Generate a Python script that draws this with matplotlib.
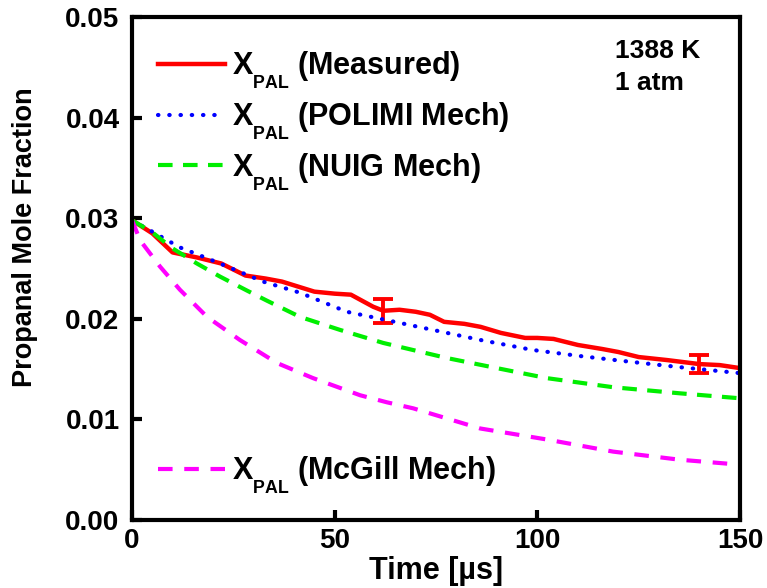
import matplotlib
matplotlib.use('Agg')
import matplotlib.pyplot as plt
import matplotlib._mathtext as mtext

plt.rcParams['font.family'] = ['Liberation Sans', 'DejaVu Sans']
plt.rcParams['font.weight'] = 'bold'
plt.rcParams['mathtext.fontset'] = 'custom'
plt.rcParams['mathtext.rm'] = 'Liberation Sans:bold'
plt.rcParams['mathtext.bf'] = 'Liberation Sans:bold'
plt.rcParams['mathtext.it'] = 'Liberation Sans:bold'

# smaller, lower subscripts like the original figure
mtext.SHRINK_FACTOR = 0.58
mtext.FontConstantsBase.sub1 = 0.85
mtext.FontConstantsBase.subdrop = 0.85

# measured propanal profile
t_meas = [0, 5, 10, 16, 22, 28, 33, 37, 41, 45, 50, 54, 59.5, 62, 66, 70, 73.5, 77,
          82, 86, 91, 97, 100, 104, 110, 116, 120, 125, 132, 140, 145, 150]
x_meas = [0.0298, 0.0285, 0.0266, 0.0261, 0.0255, 0.0243, 0.0240, 0.0237, 0.0232,
          0.0227, 0.0225, 0.0224, 0.0212, 0.0208, 0.0209, 0.0207, 0.0204, 0.0197,
          0.0195, 0.0192, 0.0186, 0.0181, 0.0181, 0.0180, 0.0174, 0.0170, 0.0167,
          0.0162, 0.0159, 0.0155, 0.0154, 0.0151]

# error bars
t_err = [62, 140]
x_err = [0.0208, 0.0155]
e_err = [0.0012, 0.0009]

# model predictions
t_polimi = [0, 4.4, 11.8, 16.8, 21.7, 32.3, 41.4, 53, 66, 77.7, 85.9, 98.9, 110.5,
            123.6, 135, 150]
x_polimi = [0.0298, 0.0288, 0.0271, 0.0263, 0.0255, 0.0237, 0.0226, 0.0207, 0.0196,
            0.0186, 0.0179, 0.0169, 0.0163, 0.0157, 0.0152, 0.0146]

t_nuig = [0, 5, 10, 16, 21.7, 28.4, 33.3, 41.4, 51.3, 62, 77.7, 90, 102.4, 118.7,
          135, 150]
x_nuig = [0.0298, 0.0286, 0.0270, 0.0255, 0.0242, 0.0228, 0.0218, 0.0202, 0.0189,
          0.0176, 0.0161, 0.0151, 0.0141, 0.0132, 0.0126, 0.0121]

t_mcgill = [0, 2, 6.9, 11.8, 18.5, 26.6, 35.8, 44.7, 56.3, 62.9, 69.4, 85.9, 102.4,
            118.7, 135, 150]
x_mcgill = [0.0298, 0.0278, 0.0252, 0.0229, 0.0202, 0.0179, 0.0156, 0.0141, 0.0124,
            0.0117, 0.0111, 0.0091, 0.0080, 0.0068, 0.0060, 0.0055]

labels = [r'$\mathbf{X_{PAL}}$ (Measured)', r'$\mathbf{X_{PAL}}$ (POLIMI Mech)',
          r'$\mathbf{X_{PAL}}$ (NUIG Mech)', r'$\mathbf{X_{PAL}}$ (McGill Mech)']

fig = plt.figure(figsize=(7.67, 5.88), dpi=100)
ax = fig.add_axes([0.1721, 0.1156, 0.7927, 0.8555])

l1, = ax.plot(t_meas, x_meas, color='red', lw=3.2, solid_joinstyle='round')
ax.errorbar(t_err, x_err, yerr=e_err, fmt='none', ecolor='red', elinewidth=2.8,
            capsize=7.5, capthick=2.8)
l2, = ax.plot(t_polimi, x_polimi, color='blue', lw=3, linestyle=(0, (0.1, 2.6)),
              dash_capstyle='round')
l3, = ax.plot(t_nuig, x_nuig, color='#00ee00', lw=3, linestyle=(0, (3.5, 2.5)))
l4, = ax.plot(t_mcgill, x_mcgill, color='magenta', lw=3, linestyle=(0, (3.5, 2.8)))

ax.set_xlim(0, 150)
ax.set_ylim(0, 0.05)
ax.set_xticks([0, 50, 100, 150])
ax.set_yticks([0.00, 0.01, 0.02, 0.03, 0.04, 0.05])
ax.set_yticklabels(['0.00', '0.01', '0.02', '0.03', '0.04', '0.05'])
ax.tick_params(direction='in', length=7, width=3, labelsize=20)
ax.tick_params(axis='y', pad=9)
ax.tick_params(axis='x', pad=6)
for s in ax.spines.values():
    s.set_linewidth(3)

ax.set_xlabel('Time [µs]', fontsize=22, fontweight='bold', labelpad=1)
ax.set_ylabel('Propanal Mole Fraction', fontsize=19.5, fontweight='bold')
ax.yaxis.set_label_coords(-0.155, 0.563)

leg1 = ax.legend([l1, l2, l3], labels[:3], loc='upper left', frameon=False,
                 fontsize=22, handlelength=2.2, handletextpad=0.25, labelspacing=0.3,
                 borderaxespad=0.2, bbox_to_anchor=(0.012, 0.971))
ax.add_artist(leg1)
ax.legend([l4], labels[3:], loc='lower left', frameon=False, fontsize=22,
          handlelength=2.2, handletextpad=0.25, borderaxespad=0.2,
          bbox_to_anchor=(0.012, 0.012))

ax.text(0.795, 0.9185, '1388 K', transform=ax.transAxes, fontsize=19,
        fontweight='bold', va='baseline')
ax.text(0.795, 0.855, '1 atm', transform=ax.transAxes, fontsize=19,
        fontweight='bold', va='baseline')

fig.savefig('out.png', dpi=100)
